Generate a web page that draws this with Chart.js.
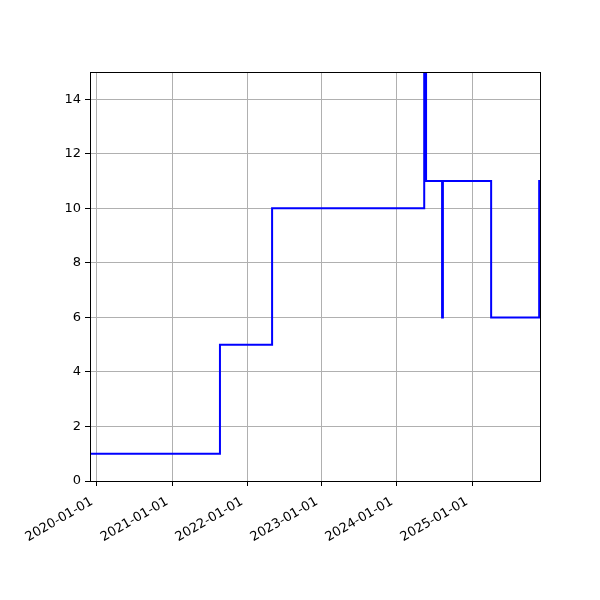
<!DOCTYPE html>
<html>
<head>
<meta charset="utf-8">
<script src="https://cdn.jsdelivr.net/npm/chart.js@4/dist/chart.umd.min.js"></script>
<style>
  html, body { margin: 0; padding: 0; background: #fff; }
  #wrap { width: 600px; height: 600px; }
</style>
</head>
<body>
<div id="wrap"><canvas id="stepChart"></canvas></div>
<script>
// step dates (value holds until the next date)
const stepDates = ['2019-11-28', '2021-08-22', '2022-05-03', '2024-05-13', '2024-05-22',
                   '2024-08-08', '2024-08-12', '2025-04-04', '2025-11-24', '2025-11-28'];
const stepValues = [1, 5, 10, 20, 11, 6, 11, 6, 11, 11];
const tickYears = [2020, 2021, 2022, 2023, 2024, 2025];
const yTicks = [0, 2, 4, 6, 8, 10, 12, 14];

const toMs = s => Date.parse(s + 'T00:00:00Z');
const fmt = ms => new Date(ms).toISOString().slice(0, 10);

// black frame around the plot area
const frame = {
    id: 'frame',
    afterDraw(chart) {
        const a = chart.chartArea, ctx = chart.ctx;
        ctx.save();
        ctx.strokeStyle = '#000';
        ctx.lineWidth = 1;
        ctx.strokeRect(Math.round(a.left) + 0.5, Math.round(a.top) + 0.5,
            Math.round(a.right - a.left), Math.round(a.bottom - a.top));
        ctx.restore();
    }
};

document.addEventListener('DOMContentLoaded', function() {
    const ctx = document.getElementById('stepChart').getContext('2d');
    Chart.defaults.font.family = 'DejaVu Sans';
    Chart.defaults.font.size = 13;
    Chart.defaults.color = '#000';

    new Chart(ctx, {
        type: 'line',
        data: {
            datasets: [{
                data: stepDates.map((d, i) => ({ x: toMs(d), y: stepValues[i] })),
                borderColor: '#0000ff',
                borderWidth: 2,
                stepped: true,
                pointRadius: 0,
                fill: false
            }]
        },
        options: {
            responsive: true,
            maintainAspectRatio: false,
            animation: false,
            layout: { padding: { left: 40, right: 60, top: 72, bottom: 0 } },
            plugins: { legend: { display: false }, tooltip: { enabled: false } },
            scales: {
                x: {
                    type: 'linear',
                    min: toMs(stepDates[0]),
                    max: toMs(stepDates[stepDates.length - 1]),
                    afterBuildTicks: s => { s.ticks = tickYears.map(y => ({ value: Date.UTC(y, 0, 1) })); },
                    afterFit: s => { s.height = 119; },
                    grid: { color: '#b0b0b0', tickColor: '#000', tickLength: 5 },
                    border: { color: '#000' },
                    ticks: {
                        minRotation: 30,
                        maxRotation: 30,
                        padding: 8,
                        labelOffset: -5,
                        callback: v => fmt(v)
                    }
                },
                y: {
                    min: 0,
                    max: 15,
                    afterBuildTicks: s => { s.ticks = yTicks.map(v => ({ value: v })); },
                    afterFit: s => { s.width = 50; },
                    grid: { color: '#b0b0b0', tickColor: '#000', tickLength: 5 },
                    border: { color: '#000' },
                    ticks: { padding: 4 }
                }
            }
        },
        plugins: [frame]
    });
});
</script>
</body>
</html>
